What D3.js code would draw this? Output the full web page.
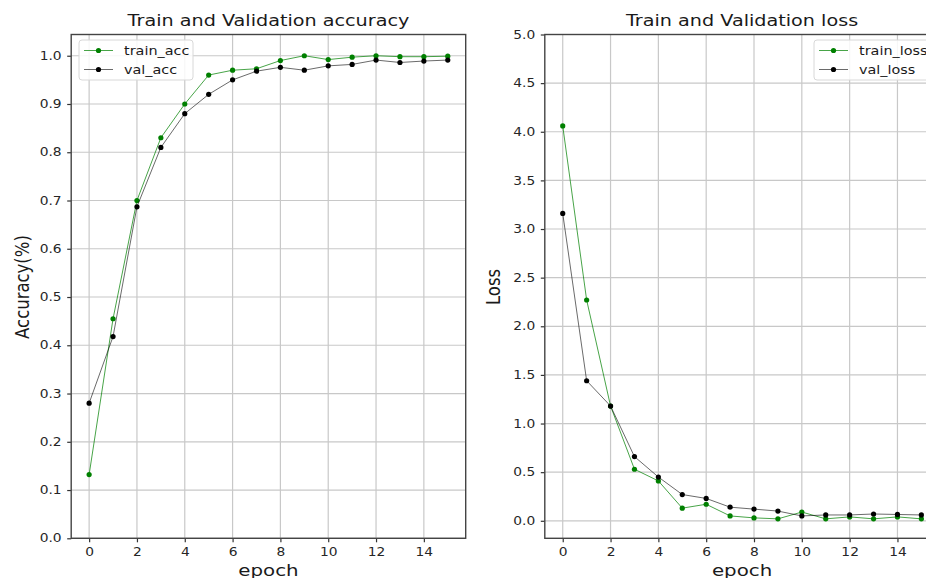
<!DOCTYPE html>
<html>
<head>
<meta charset="utf-8">
<script src="https://cdn.jsdelivr.net/npm/d3@7"></script>
<style>
  body { margin: 0; background: #fff; }
  svg { display: block; font-family: "DejaVu Sans", sans-serif; }
  .tick text { fill: #262626; }
</style>
</head>
<body>
<svg id="chart" width="926" height="578"></svg>
<script>
// epochs 0..15
var epochs = d3.range(0, 16);

var trainAcc = [0.132, 0.455, 0.700, 0.830, 0.900, 0.960, 0.970, 0.973, 0.990, 1.000, 0.992, 0.997, 1.000, 0.998, 0.998, 0.999];
var valAcc   = [0.280, 0.418, 0.687, 0.810, 0.880, 0.920, 0.950, 0.968, 0.976, 0.970, 0.979, 0.982, 0.991, 0.986, 0.989, 0.991];

var trainLoss = [4.06, 2.27, 1.18, 0.53, 0.41, 0.13, 0.17, 0.05, 0.03, 0.02, 0.09, 0.02, 0.04, 0.02, 0.04, 0.02];
var valLoss   = [3.16, 1.44, 1.18, 0.66, 0.45, 0.27, 0.23, 0.14, 0.12, 0.10, 0.05, 0.06, 0.06, 0.07, 0.065, 0.06];

var xTicks = [0, 2, 4, 6, 8, 10, 12, 14];
var accTicks = [0.0, 0.1, 0.2, 0.3, 0.4, 0.5, 0.6, 0.7, 0.8, 0.9, 1.0];
var lossTicks = [0.0, 0.5, 1.0, 1.5, 2.0, 2.5, 3.0, 3.5, 4.0, 4.5, 5.0];

var SX = 1.2; // the picture is a bit stretched sideways, text too

var svg = d3.select("#chart");

// text placed at (x,y) and stretched in x
function label(g, x, y, str, size, anchor, rot) {
  return g.append("text")
    .attr("transform", "translate(" + x + "," + y + ")" + (rot ? " rotate(-90) scale(1," + SX + ")" : " scale(" + SX + ",1)"))
    .attr("text-anchor", anchor).attr("font-size", size).attr("fill", "#1a1a1a").text(str);
}

//draw one panel
function panel(opt) {
  var x = d3.scaleLinear().domain([-0.75, 15.75]).range([opt.left, opt.left + 394.5]);
  var y = d3.scaleLinear().domain(opt.yDomain).range([538.3, 34.5]);
  var g = svg.append("g");

  // grid
  g.selectAll(".vgrid").data(xTicks).enter().append("line")
    .attr("x1", d => x(d)).attr("x2", d => x(d))
    .attr("y1", y.range()[0]).attr("y2", y.range()[1])
    .attr("stroke", "#c8c8c8").attr("stroke-width", 1.2);
  g.selectAll(".hgrid").data(opt.yTicks).enter().append("line")
    .attr("x1", x.range()[0]).attr("x2", x.range()[1])
    .attr("y1", d => y(d)).attr("y2", d => y(d))
    .attr("stroke", "#c8c8c8").attr("stroke-width", 1.2);

  // axes
  var xAxis = d3.axisBottom(x).tickValues(xTicks).tickSize(4).tickPadding(6).tickFormat(d3.format("d"));
  var yAxis = d3.axisLeft(y).tickValues(opt.yTicks).tickSize(4).tickPadding(4).tickFormat(d3.format(".1f"));
  var ax = g.append("g").attr("transform", "translate(0," + y.range()[0] + ")").call(xAxis);
  var ay = g.append("g").attr("transform", "translate(" + x.range()[0] + ",0)").call(yAxis);
  [ax, ay].forEach(a => {
    a.select(".domain").remove();
    a.selectAll("line").attr("stroke", "#333").attr("stroke-width", 1.2);
    a.selectAll("text").attr("font-size", 11.5).attr("font-family", "DejaVu Sans")
      .attr("transform", "scale(" + SX + ",1)");
  });

  // frame
  g.append("rect")
    .attr("x", x.range()[0]).attr("y", y.range()[1])
    .attr("width", x.range()[1] - x.range()[0]).attr("height", y.range()[0] - y.range()[1])
    .attr("fill", "none").attr("stroke", "#444").attr("stroke-width", 1.4);

  // lines
  var line = d3.line().x((d, i) => x(epochs[i])).y(d => y(d));
  opt.series.forEach(s => {
    g.append("path").datum(s.values)
      .attr("fill", "none").attr("stroke", s.color).attr("stroke-width", 0.9)
      .attr("stroke-opacity", s.color == "black" ? 0.65 : 0.8)
      .attr("d", line);
    g.selectAll(null).data(s.values).enter().append("circle")
      .attr("cx", (d, i) => x(epochs[i])).attr("cy", d => y(d))
      .attr("r", 2.6).attr("fill", s.color);
  });

  // title + labels
  var cx = (x.range()[0] + x.range()[1]) / 2;
  label(g, cx, 26, opt.title, 16, "middle");
  label(g, cx, 576, "epoch", 16.5, "middle");
  label(g, opt.ylabelX, opt.ylabelY, opt.ylabel, 16.5, "middle", true);

  // legend
  var lg = g.append("g").attr("transform", "translate(" + opt.legendX + ",40)");
  lg.append("rect").attr("width", opt.legendW).attr("height", 40).attr("rx", 3)
    .attr("fill", "#fff").attr("fill-opacity", 0.85).attr("stroke", "#d8d8d8");
  opt.series.forEach((s, i) => {
    var yy = 10.5 + i * 19;
    lg.append("line").attr("x1", 5).attr("x2", 34).attr("y1", yy).attr("y2", yy)
      .attr("stroke", s.color).attr("stroke-width", 0.9).attr("stroke-opacity", s.color == "black" ? 0.65 : 0.8);
    lg.append("circle").attr("cx", 19.5).attr("cy", yy).attr("r", 2.6).attr("fill", s.color);
    label(lg, 45, yy + 4.5, s.name, 12, "start");
  });
}

panel({
  left: 71.2, yDomain: [0, 1.044], yTicks: accTicks,
  title: "Train and Validation accuracy", ylabel: "Accuracy(%)", ylabelX: 29, ylabelY: 287,
  legendX: 79, legendW: 114,
  series: [{name: "train_acc", values: trainAcc, color: "green"}, {name: "val_acc", values: valAcc, color: "black"}]
});

panel({
  left: 544.8, yDomain: [-0.18, 5.0], yTicks: lossTicks,
  title: "Train and Validation loss", ylabel: "Loss", ylabelX: 500, ylabelY: 287,
  legendX: 814, legendW: 130,
  series: [{name: "train_loss", values: trainLoss, color: "green"}, {name: "val_loss", values: valLoss, color: "black"}]
});
</script>
</body>
</html>
